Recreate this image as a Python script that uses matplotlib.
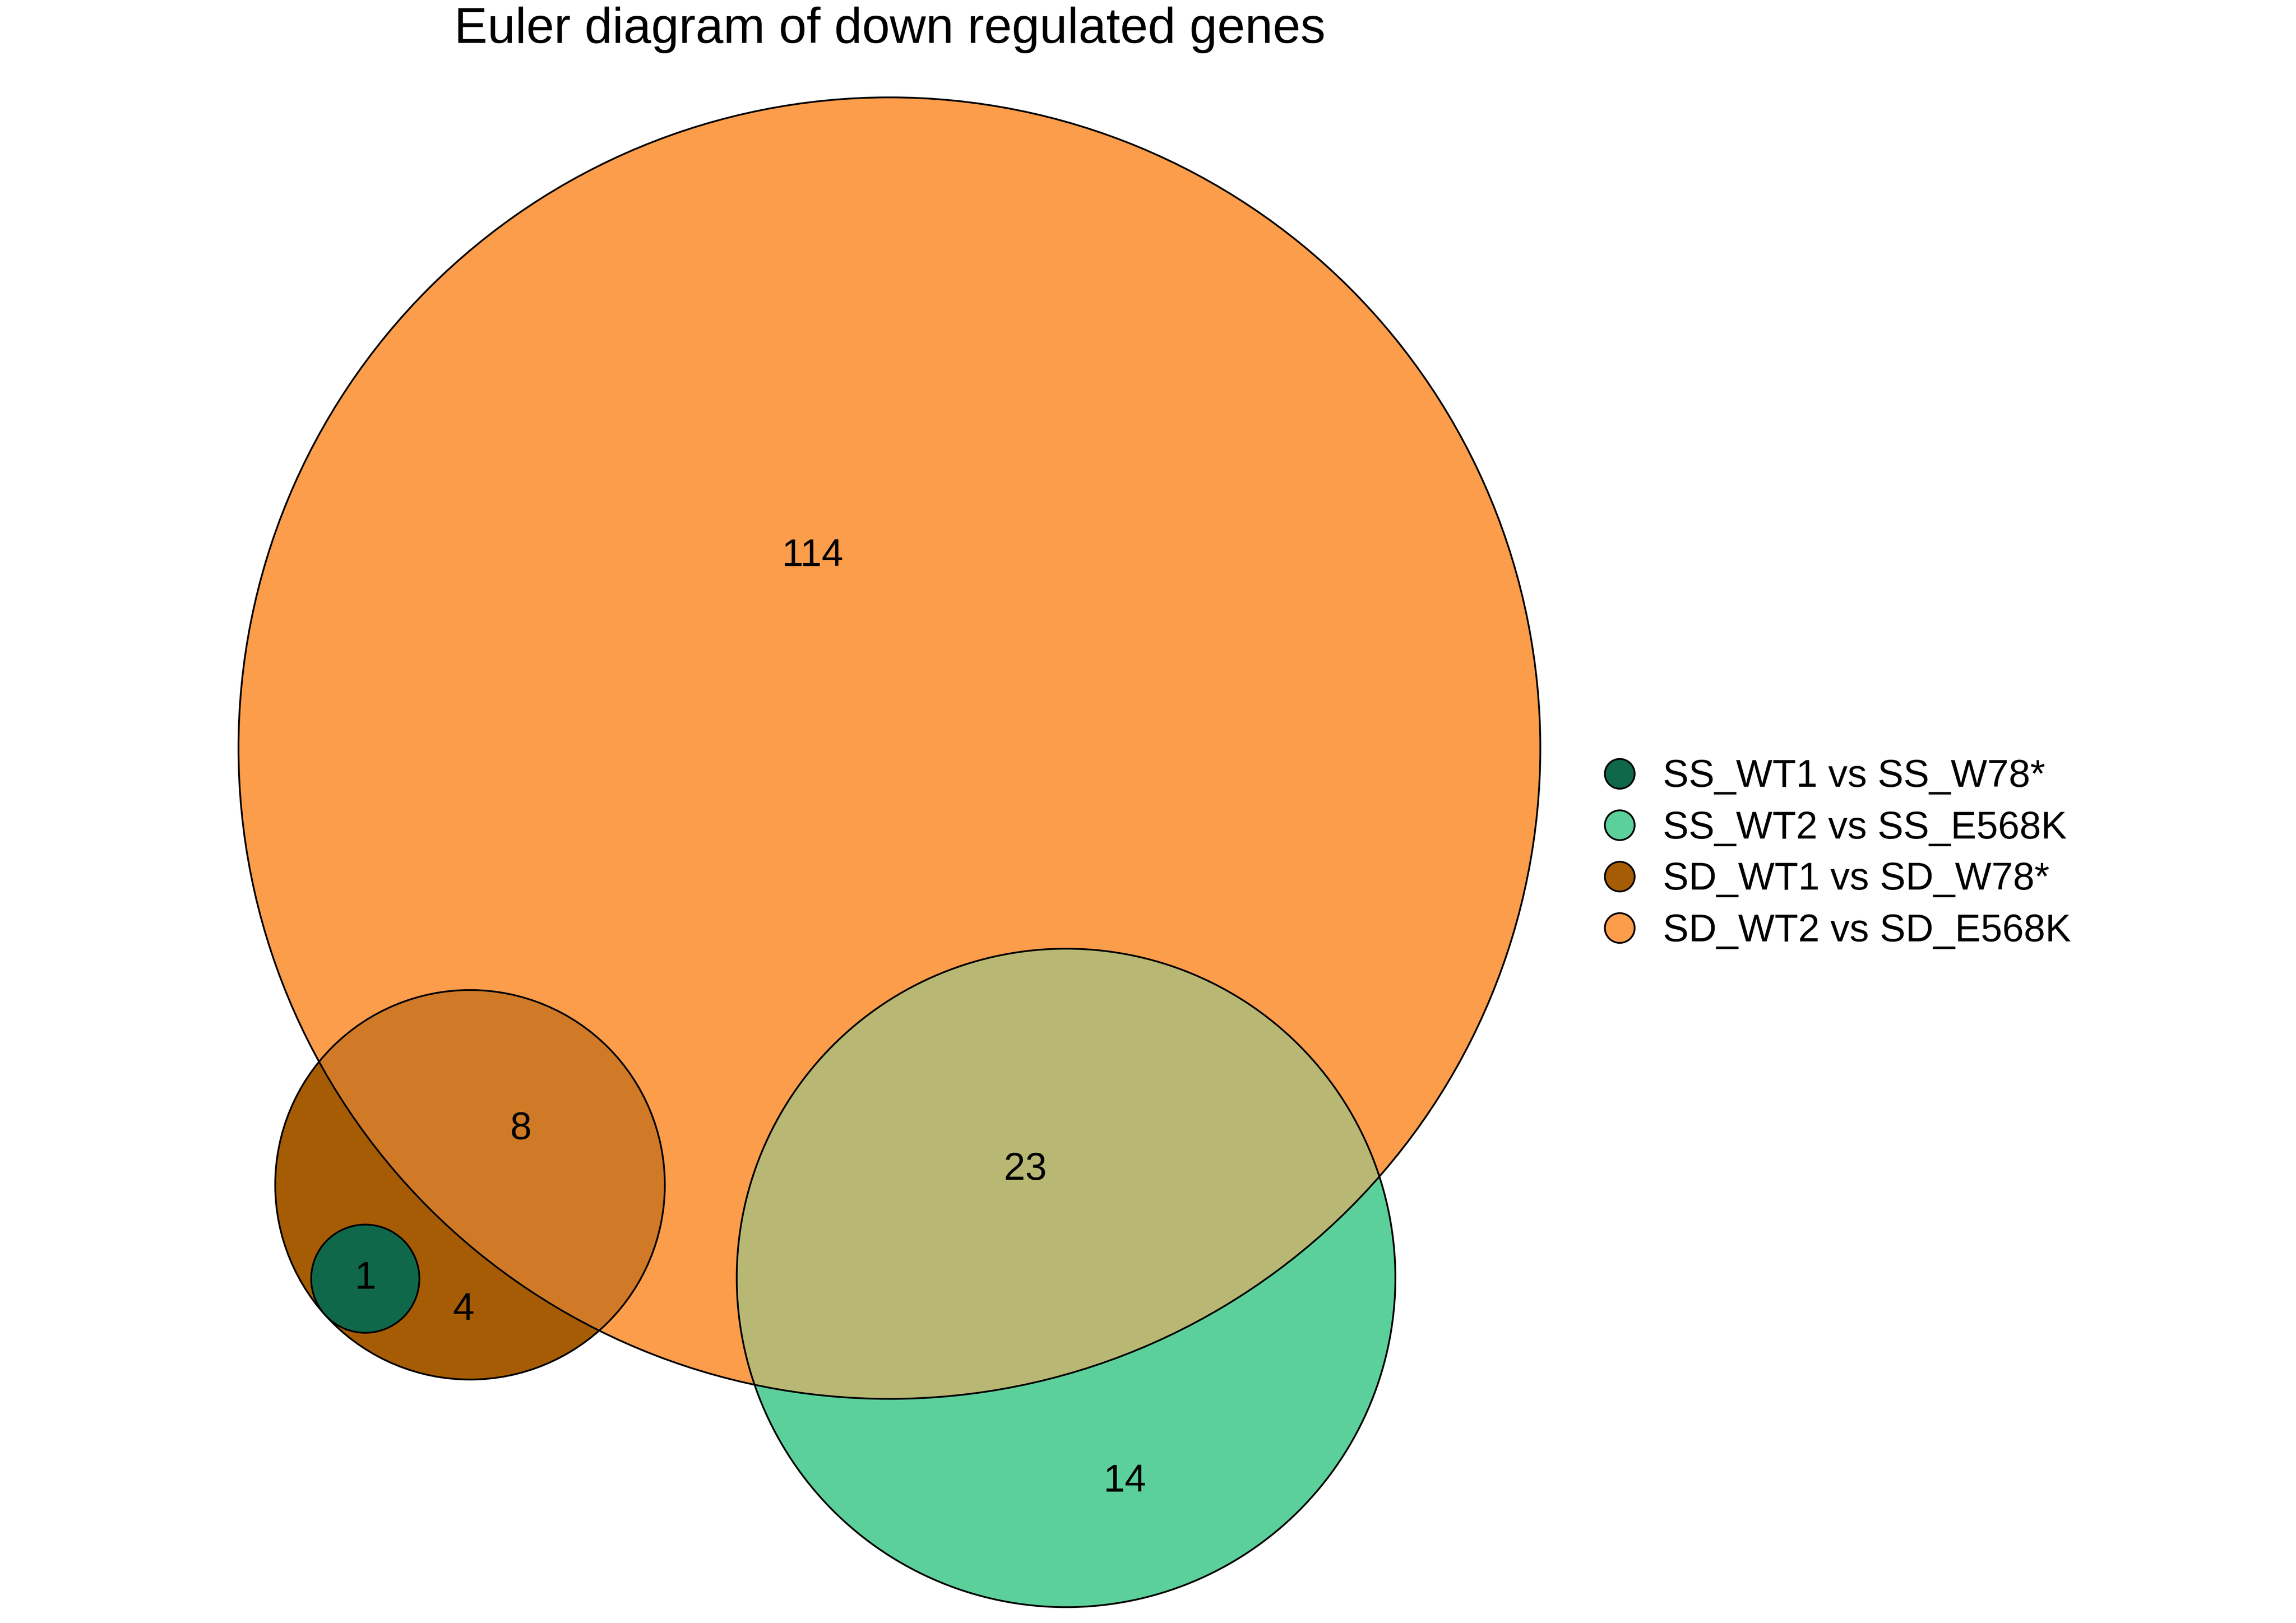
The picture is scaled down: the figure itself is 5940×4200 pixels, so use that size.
import matplotlib
matplotlib.use("Agg")
import matplotlib.pyplot as plt
from matplotlib.patches import Circle
from matplotlib.lines import Line2D

plt.rcParams['font.family'] = ['Liberation Sans', 'DejaVu Sans']

# sets and region counts
sets = ['SS_WT1 vs SS_W78*', 'SS_WT2 vs SS_E568K', 'SD_WT1 vs SD_W78*', 'SD_WT2 vs SD_E568K']
set_colors = ['#10684A', '#5CD09B', '#A65C04', '#FC9D4C']
region_counts = [114, 8, 23, 1, 4, 14]

# euler layout (pixel units of the output image), one circle per set
layout_x = [945, 2758, 1216, 2301]
layout_y = [3309, 3307, 3066, 1936]
layout_r = [140, 852, 504, 1684]

# label anchor for every region count
label_x = [2102, 1347, 2652, 945, 1199, 2910]
label_y = [1439, 2922, 3027, 3309, 3391, 3834]

# colours of the two overlap regions with the big set
overlap_colors = {(3, 2): '#D07A28', (3, 1): '#B8B874'}

fig = plt.figure(figsize=(19.8, 14), dpi=300)
ax = fig.add_axes([0, 0, 1, 1])
ax.set_xlim(0, 5940)
ax.set_ylim(4200, 0)
ax.set_aspect('equal')
ax.axis('off')

# fills, big set first
for i in [3, 1, 2, 0]:
    ax.add_patch(Circle((layout_x[i], layout_y[i]), layout_r[i],
                        facecolor=set_colors[i], edgecolor='none', zorder=1))

for (a, b), col in overlap_colors.items():
    p = Circle((layout_x[a], layout_y[a]), layout_r[a], facecolor=col,
               edgecolor='none', zorder=2)
    ax.add_patch(p)
    clip = Circle((layout_x[b], layout_y[b]), layout_r[b], transform=ax.transData)
    p.set_clip_path(clip)

# the innermost set sits on top of the overlaps
ax.add_patch(Circle((layout_x[0], layout_y[0]), layout_r[0],
                    facecolor=set_colors[0], edgecolor='none', zorder=2.5))

# outlines
for i in range(4):
    ax.add_patch(Circle((layout_x[i], layout_y[i]), layout_r[i],
                        facecolor='none', edgecolor='black', lw=1.1, zorder=3))

for n, x, y in zip(region_counts, label_x, label_y):
    ax.text(x, y, str(n), ha='center', va='center', fontsize=24, zorder=4)

ax.text(2302, 78, 'Euler diagram of down regulated genes', ha='center',
        va='center', fontsize=31)

handles = [Line2D([], [], marker='o', linestyle='none', markersize=18.5,
                  markerfacecolor=c, markeredgecolor='black', markeredgewidth=1.1)
           for c in set_colors]
fig.legend(handles, sets, loc='center left', bbox_to_anchor=(4140 / 5940, 1 - 2210 / 4200),
           frameon=False, fontsize=24, labelspacing=0.39, handlelength=1.0,
           handletextpad=0.62, borderpad=0, borderaxespad=0)

fig.savefig('out.png', dpi=300)
